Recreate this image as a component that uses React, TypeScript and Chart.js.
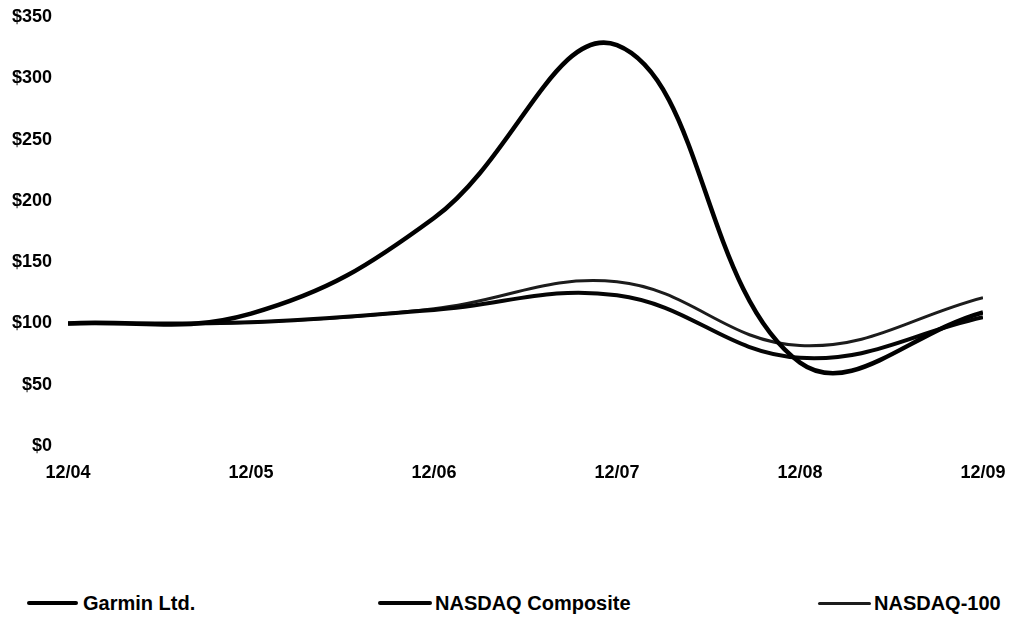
import React, { useEffect, useRef } from "react";
import { Chart, registerables } from "chart.js";

Chart.register(...registerables);

const periods = ["12/04", "12/05", "12/06", "12/07", "12/08", "12/09"];
const garmin = [100, 108, 186, 327, 68, 109];
const nasdaqComposite = [100, 101, 111, 123, 72, 105];
const nasdaq100 = [100, 101, 112, 134, 82, 121];
const yTicks = [0, 50, 100, 150, 200, 250, 300, 350];

const seriesNames = ["Garmin Ltd.", "NASDAQ Composite", "NASDAQ-100"];
const seriesColors = ["#000000", "#050505", "#1c1c1c"];
const seriesWidths = [4.5, 4, 3];

const FONT = "'Liberation Sans', Arial, sans-serif";

export default function App() {
  const ref = useRef<HTMLCanvasElement | null>(null);

  useEffect(() => {
    if (!ref.current) return;
    const allSeries = [garmin, nasdaqComposite, nasdaq100];
    const chart = new Chart(ref.current, {
      type: "line",
      data: {
        datasets: allSeries.map((s, i) => ({
          label: seriesNames[i],
          data: s.map((v, j) => ({ x: j, y: v })),
          borderColor: seriesColors[i],
          borderWidth: seriesWidths[i],
          pointRadius: 0,
          tension: 0.4,
          fill: false,
        })),
      },
      options: {
        animation: false,
        responsive: false,
        maintainAspectRatio: false,
        layout: { padding: { top: 17, right: 33, left: 0, bottom: 0 } },
        plugins: { legend: { display: false }, tooltip: { enabled: false } },
        scales: {
          x: {
            type: "linear",
            min: 0,
            max: 5,
            grid: { display: false, drawTicks: false },
            border: { display: false },
            ticks: {
              stepSize: 1,
              padding: 16,
              maxRotation: 0,
              color: "#000",
              font: { family: FONT, size: 18, weight: "bold" },
              callback: (v: any) => periods[Number(v)] ?? "",
            },
            afterFit: (scale: any) => {
              scale.height = 54;
              scale.paddingLeft = 0;
              scale.paddingRight = 0;
            },
          },
          y: {
            min: 0,
            max: 350,
            grid: { display: false, drawTicks: false },
            border: { display: false },
            afterBuildTicks: (scale: any) => {
              scale.ticks = yTicks.map((v) => ({ value: v }));
            },
            ticks: {
              padding: 16,
              color: "#000",
              font: { family: FONT, size: 18, weight: "bold" },
              callback: (v: any) => "$" + v,
            },
            afterFit: (scale: any) => {
              scale.width = 68;
              scale.paddingTop = 0;
              scale.paddingBottom = 0;
            },
          },
        },
      },
    });
    return () => chart.destroy();
  }, []);

  const legendItems = [
    { left: 27, width: 51, textLeft: 83 },
    { left: 378, width: 54, textLeft: 435 },
    { left: 818, width: 53, textLeft: 874 },
  ];

  return (
    <div
      style={{
        position: "absolute",
        left: 0,
        top: 0,
        width: 1016,
        height: 617,
        background: "#fff",
        overflow: "hidden",
      }}
    >
      <canvas ref={ref} width={1016} height={500} style={{ display: "block" }} />
      {legendItems.map((it, i) => (
        <React.Fragment key={i}>
          <div
            style={{
              position: "absolute",
              left: it.left,
              top: 603 - seriesWidths[i] / 2,
              width: it.width,
              height: seriesWidths[i],
              background: seriesColors[i],
              borderRadius: 2,
            }}
          />
          <div
            style={{
              position: "absolute",
              left: it.textLeft,
              top: 603 - 12,
              height: 24,
              lineHeight: "24px",
              fontFamily: FONT,
              fontWeight: "bold",
              fontSize: 20,
              color: "#000",
              whiteSpace: "nowrap",
            }}
          >
            {seriesNames[i]}
          </div>
        </React.Fragment>
      ))}
    </div>
  );
}
